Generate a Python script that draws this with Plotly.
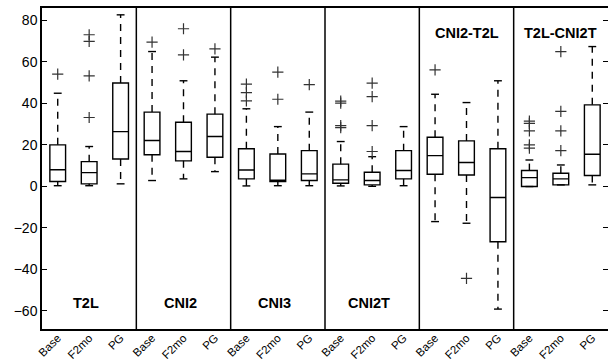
import plotly.graph_objects as go

groups = ["T2L", "CNI2", "CNI3", "CNI2T", "CNI2-T2L", "T2L-CNI2T"]
conditions = ["Base", "F2mo", "PG"]
label_at_top = [False, False, False, False, True, True]

# per box (group-major order: T2L Base, T2L F2mo, T2L PG, CNI2 Base, ...)
lower_whisker = [0.3, 0.3, 1.2,   2.8, 3.6, 7.1,   0.2, 0.3, 0.3,   0.2, 0.0, 0.3,   -17.0, -17.8, -59.2,   -0.1, 0.7, 0.7]
q1            = [2.3, 1.2, 13.2,  15.2, 12.3, 14.0, 3.6, 2.3, 2.8,   1.5, 0.7, 3.6,   5.8, 5.5, -26.7,       -0.1, 0.7, 5.2]
median        = [8.0, 6.6, 26.4,  22.1, 16.8, 24.0, 7.9, 2.9, 6.0,   3.1, 2.8, 7.6,   14.8, 11.5, -5.4,      4.2, 3.6, 15.5]
q3            = [20.0, 11.9, 49.8, 35.8, 30.9, 34.8, 18.1, 15.6, 17.2, 10.7, 6.8, 17.2, 23.7, 21.9, 18.1,      7.6, 6.3, 39.3]
upper_whisker = [44.9, 19.2, 82.7, 65.0, 50.9, 62.3, 37.4, 28.8, 35.8, 21.6, 14.3, 28.8, 44.4, 40.4, 50.9,   12.7, 10.3, 67.4]
outliers = [
    [54.1], [33.2, 53.3, 69.9, 73.1], [],
    [69.5], [63.4, 76.0], [66.3],
    [41.2, 45.2, 49.3], [42.0, 55.1], [49.0],
    [28.3, 29.3, 40.1, 41.1], [16.8, 29.3, 43.3, 49.8], [],
    [56.2], [-44.4], [],
    [18.4, 20.0, 26.7, 30.4, 31.4], [17.2, 26.7, 36.1, 65.0], [],
]

ytick_vals = [-60, -40, -20, 0, 20, 40, 60, 80]

n_c = len(conditions)
positions = [g * n_c + c + 1 for g in range(len(groups)) for c in range(n_c)]
ticktext = [conditions[c] for g in range(len(groups)) for c in range(n_c)]

fig = go.Figure()

# boxes
for i, x in enumerate(positions):
    fig.add_trace(go.Box(
        x=[x], q1=[q1[i]], median=[median[i]], q3=[q3[i]],
        lowerfence=[q1[i]], upperfence=[q3[i]],
        width=0.5, whiskerwidth=0, boxpoints=False,
        line=dict(color="black", width=1.4), fillcolor="white",
        showlegend=False, hoverinfo="skip",
    ))

# dashed whiskers
wx, wy = [], []
cx, cy = [], []
cap = 0.125
for i, x in enumerate(positions):
    if upper_whisker[i] > q3[i]:
        wx += [x, x, None]; wy += [q3[i], upper_whisker[i], None]
    if lower_whisker[i] < q1[i]:
        wx += [x, x, None]; wy += [q1[i], lower_whisker[i], None]
    cx += [x - cap, x + cap, None, x - cap, x + cap, None]
    cy += [upper_whisker[i], upper_whisker[i], None, lower_whisker[i], lower_whisker[i], None]

fig.add_trace(go.Scatter(x=wx, y=wy, mode="lines",
                         line=dict(color="black", width=1.4, dash="7px,6px"),
                         showlegend=False, hoverinfo="skip"))
fig.add_trace(go.Scatter(x=cx, y=cy, mode="lines",
                         line=dict(color="black", width=1.4),
                         showlegend=False, hoverinfo="skip"))

# outliers
ox, oy = [], []
for i, x in enumerate(positions):
    for v in outliers[i]:
        ox.append(x); oy.append(v)
fig.add_trace(go.Scatter(x=ox, y=oy, mode="markers",
                         marker=dict(symbol="cross-thin", size=8,
                                     line=dict(color="#333333", width=1.2)),
                         showlegend=False, hoverinfo="skip"))

# panel dividers
for g in range(1, len(groups)):
    fig.add_shape(type="line", xref="x", yref="paper",
                  x0=g * n_c + 0.5, x1=g * n_c + 0.5, y0=0, y1=1,
                  line=dict(color="black", width=1.5))

# panel labels
for g, name in enumerate(groups):
    top = label_at_top[g]
    fig.add_annotation(x=g * n_c + (2.0 if top else 1.9), y=73.9 if top else -56.4,
                       xref="x", yref="y", text="<b>" + name + "</b>",
                       showarrow=False, xanchor="center", yanchor="middle",
                       font=dict(size=14.5, color="black", family="Liberation Sans, Arial"))

fig.update_layout(
    template="none",
    width=608, height=364,
    margin=dict(l=42, r=0, t=8, b=35, pad=0),
    paper_bgcolor="white", plot_bgcolor="white",
    font=dict(family="Liberation Sans, Arial", color="black"),
    showlegend=False,
    boxmode="overlay",
)
fig.update_xaxes(range=[0.5, len(positions) + 0.5], tickmode="array",
                 tickvals=positions, ticktext=ticktext, tickangle=-45,
                 showline=True, mirror=True, linecolor="black", linewidth=1.5,
                 ticks="", showgrid=False, zeroline=False, automargin=False,
                 ticklabelstandoff=-4,
                 tickfont=dict(size=11.5, color="black"))
fig.update_yaxes(range=[-68.8, 86], tickmode="array", tickvals=ytick_vals,
                 showline=True, mirror="ticks", linecolor="black", linewidth=1.5,
                 ticks="inside", ticklen=5, tickcolor="black", tickwidth=1.2,
                 showgrid=False, zeroline=False, automargin=False,
                 tickfont=dict(size=14, color="black"))

fig.write_html("out.html", config={"displayModeBar": False},
               post_script="document.body.style.margin='0';document.body.style.overflow='hidden';")
